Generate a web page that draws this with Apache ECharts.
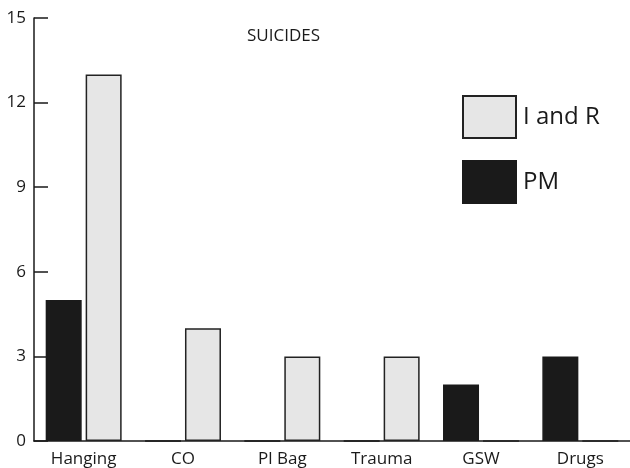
<!DOCTYPE html>
<html>
<head>
<meta charset="utf-8">
<script src="https://cdn.jsdelivr.net/npm/echarts@6/dist/echarts.min.js"></script>
<style>
  html, body { margin: 0; padding: 0; background: #fff; }
  #chart { width: 630px; height: 468px; }
</style>
</head>
<body>
<div id="chart"></div>
<script>
const categories = ['Hanging', 'CO', 'Pl Bag', 'Trauma', 'GSW', 'Drugs']
const pmValues = [5, 0, 0, 0, 2, 3]
const iandrValues = [13, 4, 3, 3, 0, 0]
const yTicks = [0, 3, 6, 9, 12, 15]

const font = 'Open Sans, DejaVu Sans, sans-serif'
const ink = '#1a1a1a'

const chart = echarts.init(document.getElementById('chart'))
chart.setOption({
  animation: false,
  title: {
    text: 'SUICIDES',
    left: 242,
    top: 23,
    textStyle: { color: ink, fontSize: 17, fontWeight: 'normal', fontFamily: font },
  },
  legend: {
    data: ['I and R', 'PM'],
    orient: 'vertical',
    left: 457,
    top: 90,
    icon: 'rect',
    itemWidth: 53,
    itemHeight: 42,
    itemGap: 21,
    textStyle: { color: ink, fontSize: 24, fontFamily: font, padding: [7, 0, 0, 2] },
  },
  grid: { left: 34, right: 0, top: 18, bottom: 27, containLabel: false },
  xAxis: {
    type: 'category',
    data: categories,
    boundaryGap: true,
    axisLine: { lineStyle: { color: ink, width: 1.5 } },
    axisTick: { inside: true, length: 10, lineStyle: { color: ink, width: 1.5 } },
    axisLabel: { color: ink, fontSize: 17, fontFamily: font, margin: 10 },
  },
  yAxis: {
    type: 'value',
    min: yTicks[0],
    max: yTicks[yTicks.length - 1],
    interval: 3,
    splitLine: { show: false },
    axisLine: { show: true, lineStyle: { color: ink, width: 1.5 } },
    axisTick: { show: true, inside: true, length: 14, lineStyle: { color: ink, width: 1.5 } },
    axisLabel: { color: ink, fontSize: 17, fontFamily: font, margin: 8 },
  },
  series: [
    {
      name: 'PM',
      type: 'bar',
      data: pmValues,
      barWidth: 36,
      barGap: '11%',
      itemStyle: { color: ink, borderColor: ink, borderWidth: 1.5 },
    },
    {
      name: 'I and R',
      type: 'bar',
      data: iandrValues,
      barWidth: 36,
      itemStyle: { color: '#e6e6e6', borderColor: '#222', borderWidth: 1.5 },
    },
  ],
})
</script>
</body>
</html>
